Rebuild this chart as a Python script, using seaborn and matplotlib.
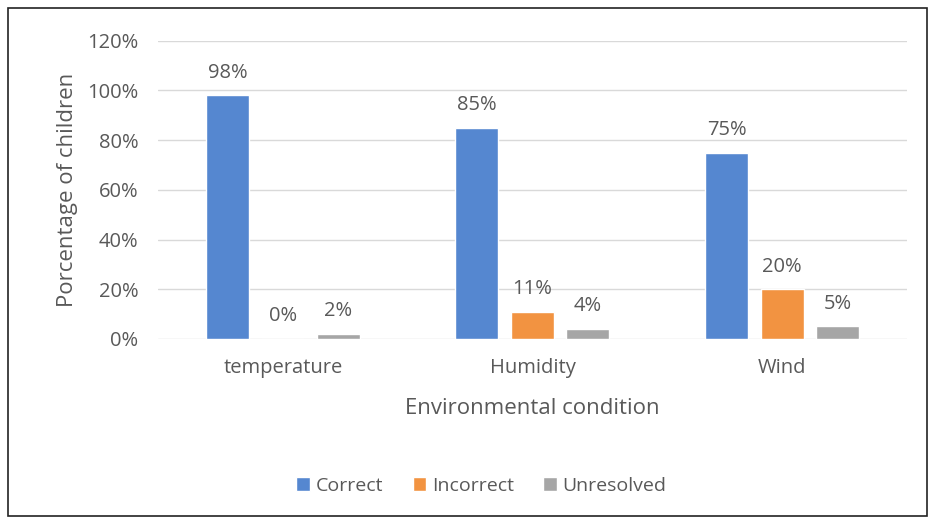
import pandas as pd
import matplotlib.pyplot as plt
import seaborn as sns
from matplotlib.patches import Rectangle

# chart data
conditions = ['temperature', 'Humidity', 'Wind']
outcomes = ['Correct', 'Incorrect', 'Unresolved']
correct = [98, 85, 75]
incorrect = [0, 11, 20]
unresolved = [2, 4, 5]

colors = {'Correct': '#5587d0', 'Incorrect': '#f29341', 'Unresolved': '#a6a6a6'}
text_color = '#595959'


def main():
    df = pd.DataFrame({
        'condition': conditions * 3,
        'outcome': [o for o in outcomes for _ in conditions],
        'value': correct + incorrect + unresolved,
    })

    sns.set_style('white')
    plt.rcParams['font.family'] = ['Open Sans', 'DejaVu Sans']

    fig = plt.figure(figsize=(9.35, 5.23), dpi=100)
    ax = fig.add_axes([0.169, 0.352, 0.801, 0.570])

    sns.barplot(
        data=df, x='condition', y='value', hue='outcome',
        order=conditions, hue_order=outcomes, palette=colors,
        width=0.667, gap=0.225, saturation=1, ax=ax, legend=True,
    )

    # value labels above bars
    for container in ax.containers:
        ax.bar_label(container, labels=[f'{v:.0f}%' for v in container.datavalues],
                     padding=9, fontsize=14.5, color=text_color)

    ax.set_ylim(0, 120)
    ax.set_yticks(range(0, 121, 20))
    ax.set_yticklabels([f'{t}%' for t in range(0, 121, 20)])
    ax.grid(axis='y', color='#d9d9d9', linewidth=1)
    ax.set_axisbelow(True)
    for s in ax.spines.values():
        s.set_visible(False)
    ax.tick_params(axis='y', length=0, pad=14, labelsize=14.5, labelcolor=text_color)
    ax.tick_params(axis='x', length=0, pad=14, labelsize=14.5, labelcolor=text_color)

    ax.set_xlabel('Environmental condition', fontsize=16, color=text_color, labelpad=14)
    ax.set_ylabel('Porcentage of children', fontsize=16, color=text_color, labelpad=7)

    handles, labels = ax.get_legend_handles_labels()
    ax.legend_.remove()
    fig.legend(handles, labels, loc='center', bbox_to_anchor=(0.515, 0.071),
               ncol=3, frameon=False, fontsize=14, labelcolor=text_color,
               handlelength=0.7, handleheight=0.7, handletextpad=0.3, columnspacing=1.5)

    # outer chart border
    fig.patches.append(Rectangle((0.009, 0.014), 0.982, 0.971, transform=fig.transFigure,
                                 fill=False, edgecolor='#222222', linewidth=1.2))

    fig.savefig('out.png', dpi=100)


if __name__ == '__main__':
    main()
